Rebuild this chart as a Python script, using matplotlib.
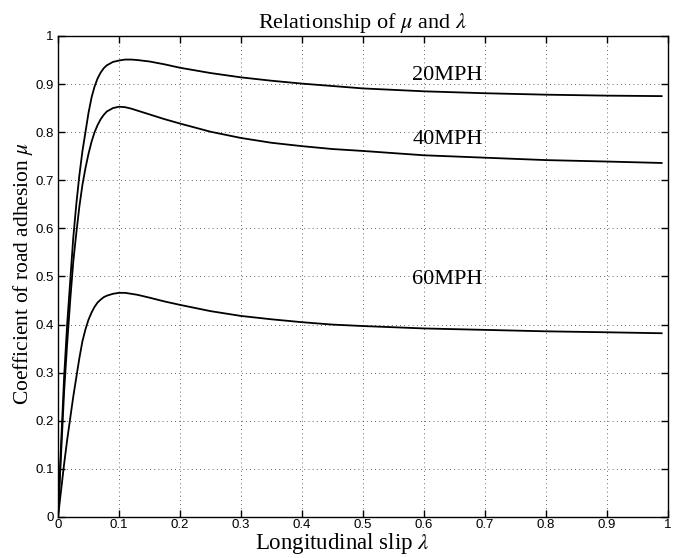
import matplotlib
matplotlib.use("Agg")
import matplotlib.pyplot as plt

plt.rcParams['mathtext.fontset'] = 'stix'

lam = [0, 0.005, 0.01, 0.015, 0.02, 0.025, 0.03, 0.035, 0.04, 0.045, 0.05,
       0.055, 0.06, 0.065, 0.07, 0.075, 0.08, 0.09, 0.10, 0.11, 0.12, 0.13,
       0.15, 0.175, 0.2, 0.25, 0.3, 0.35, 0.4, 0.45, 0.5, 0.6, 0.7, 0.8,
       0.9, 0.99]

mu_20 = [0, 0.15, 0.29, 0.40, 0.49, 0.58, 0.65, 0.71, 0.76, 0.80, 0.84,
         0.872, 0.895, 0.912, 0.924, 0.933, 0.939, 0.946, 0.949, 0.951, 0.951, 0.950,
         0.947, 0.941, 0.934, 0.923, 0.914, 0.907, 0.901, 0.896, 0.891, 0.885, 0.881, 0.878,
         0.876, 0.875]

mu_40 = [0, 0.13, 0.26, 0.36, 0.45, 0.53, 0.59, 0.645, 0.69, 0.725, 0.755,
         0.78, 0.80, 0.815, 0.827, 0.836, 0.843, 0.850, 0.853, 0.852, 0.849, 0.845,
         0.837, 0.827, 0.818, 0.801, 0.788, 0.778, 0.771, 0.765, 0.761, 0.752, 0.747, 0.742,
         0.739, 0.736]

mu_60 = [0, 0.055, 0.11, 0.16, 0.205, 0.25, 0.29, 0.33, 0.365, 0.39, 0.41,
         0.425, 0.437, 0.446, 0.452, 0.457, 0.46, 0.464, 0.466, 0.466, 0.464, 0.462,
         0.456, 0.448, 0.441, 0.428, 0.418, 0.411, 0.405, 0.400, 0.397, 0.392, 0.389, 0.386,
         0.384, 0.382]

labels = ["20MPH", "40MPH", "60MPH"]
label_x = [0.639, 0.639, 0.639]
label_y = [0.918, 0.785, 0.493]

xticks = [0, 0.1, 0.2, 0.3, 0.4, 0.5, 0.6, 0.7, 0.8, 0.9, 1]
yticks = [0, 0.1, 0.2, 0.3, 0.4, 0.5, 0.6, 0.7, 0.8, 0.9, 1]
xtick_labels = ["0", "0.1", "0.2", "0.3", "0.4", "0.5", "0.6", "0.7", "0.8", "0.9", "1"]
ytick_labels = ["0", "0.1", "0.2", "0.3", "0.4", "0.5", "0.6", "0.7", "0.8", "0.9", "1"]

fig = plt.figure(figsize=(6.76, 5.58), dpi=100)
ax = fig.add_axes([0.0858, 0.0735, 0.902, 0.862])

for mu in (mu_20, mu_40, mu_60):
    ax.plot(lam, mu, color='black', linewidth=1.3, solid_joinstyle='round')

serif = 'Liberation Serif'
for t, x, y in zip(labels, label_x, label_y):
    ax.text(x, y, t, fontsize=16, family=serif, ha='center', va='center')

ax.set_xlim(0, 1)
ax.set_ylim(0, 1)
ax.set_xticks(xticks)
ax.set_yticks(yticks)
ax.set_xticklabels(xtick_labels, family='Liberation Sans', fontsize=9.5)
ax.set_yticklabels(ytick_labels, family='Liberation Sans', fontsize=9.5)
ax.tick_params(direction='in', top=True, right=True, length=5, width=1)
ax.tick_params(axis='x', pad=1.5)
ax.tick_params(axis='y', pad=3)
ax.grid(True, linestyle=(0, (1, 4)), color='black', linewidth=0.6, alpha=0.8)
for s in ax.spines.values():
    s.set_linewidth(1.0)

fig.text(0.5355, 1 - 28 / 558, r'Relationship of $\mu$ and $\lambda$', family=serif,
         fontsize=16, ha='center', va='baseline')
fig.text(0.507, 1 - 549 / 558, r'Longitudinal slip $\lambda$', family=serif,
         fontsize=16.5, ha='center', va='baseline')
fig.text(0.034, 0.51, r'Coefficient of road adhesion $\mu$', family=serif,
         fontsize=15.5, ha='center', va='center', rotation=90)

fig.savefig('out.png', dpi=100)
